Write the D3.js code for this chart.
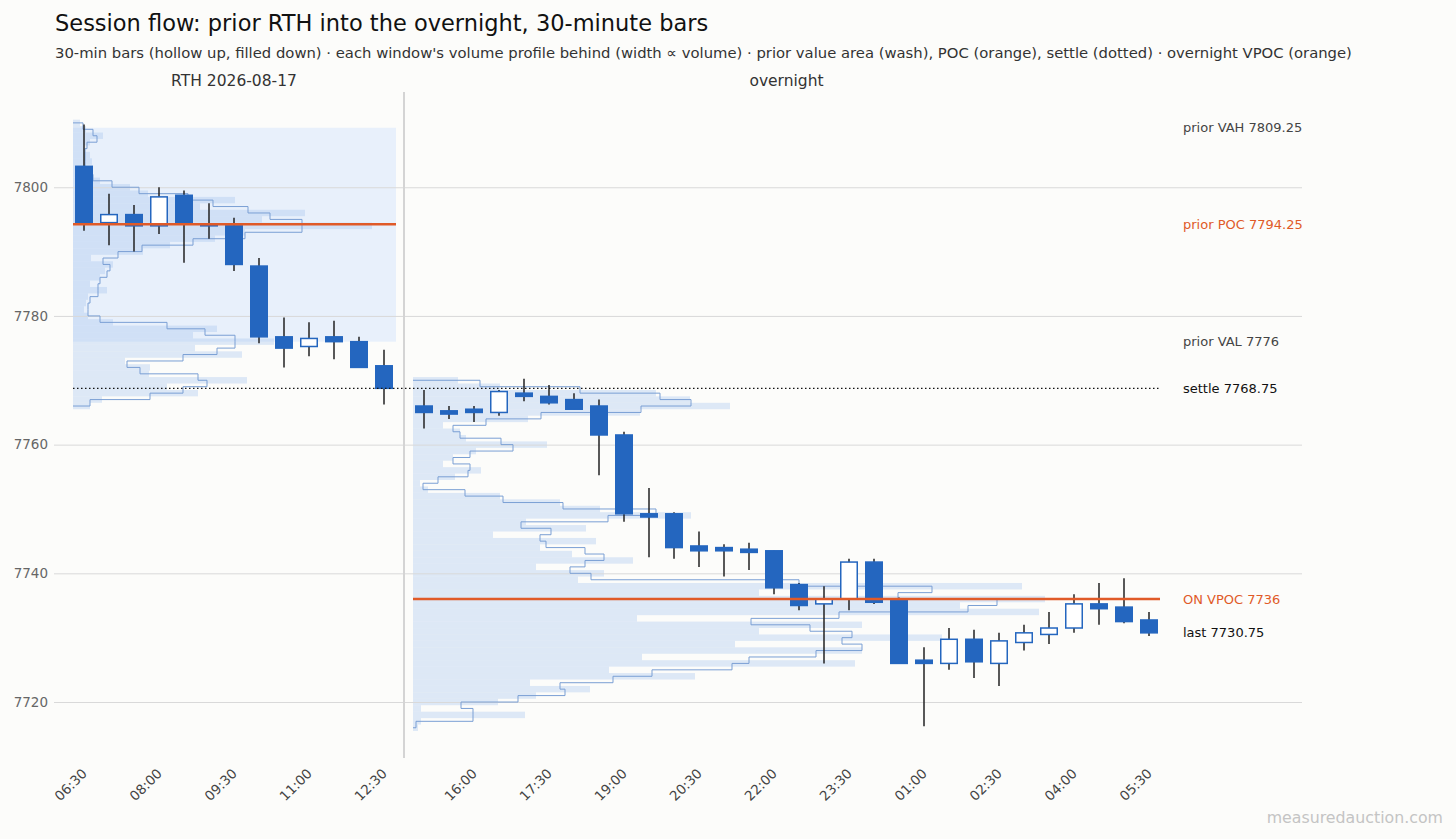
<!DOCTYPE html>
<html><head><meta charset="utf-8">
<script src="https://cdn.jsdelivr.net/npm/d3@7/dist/d3.min.js"></script>
<style>
html,body{margin:0;padding:0;background:#fcfcfa;}
svg{display:block;font-family:"DejaVu Sans",sans-serif;}
</style></head>
<body><svg id="c" width="1456" height="839"></svg>
<script>
// ---------------- data ----------------
const rthTimes = ["06:30","07:00","07:30","08:00","08:30","09:00","09:30","10:00","10:30","11:00","11:30","12:00","12:30"];
const rthOpen  = [7803.25,7794.5,7795.75,7794,7798.75,7794.25,7794,7787.75,7776.75,7775.25,7776.75,7776,7772.25];
const rthHigh  = [7809.75,7799,7797.25,7800,7799.5,7797.5,7795.25,7789,7779.75,7779,7779.25,7776.75,7774.75];
const rthLow   = [7793.25,7791,7790,7792.75,7788.25,7792,7787,7775.75,7772,7773.75,7773.25,7772,7766.25];
const rthClose = [7794.5,7795.75,7794,7798.5,7794.5,7794,7788,7776.75,7775,7776.5,7776,7772,7768.75];

const onTimes = ["15:00","15:30","16:00","16:30","17:00","17:30","18:00","18:30","19:00","19:30","20:00","20:30","21:00","21:30","22:00","22:30","23:00","23:30","00:00","00:30","01:00","01:30","02:00","02:30","03:00","03:30","04:00","04:30","05:00","05:30"];
const onOpen  = [7766,7765.25,7765.5,7765,7768,7767.5,7767,7766,7761.5,7749.25,7749.25,7744.25,7744,7743.75,7743.5,7738.25,7735.25,7736,7741.75,7735.75,7726.5,7726,7729.75,7726,7729.25,7730.5,7731.5,7735.25,7734.75,7732.75];
const onHigh  = [7768.5,7766,7766,7768.5,7770.25,7769.25,7768,7767,7762,7753.25,7749.5,7746.5,7744.5,7744.75,7743.5,7738.5,7738,7742.25,7742.25,7736.25,7728.5,7731.5,7731.25,7730.75,7732,7734,7736.75,7738.5,7739.25,7734];
const onLow   = [7762.5,7764,7763.5,7764.5,7766.75,7766.25,7765.5,7755.25,7748,7742.5,7742.25,7741,7739.5,7740.5,7736.75,7734.25,7726,7734.25,7735.25,7726,7716.25,7725,7723.75,7722.5,7728,7729,7730.75,7732,7732.25,7730.25];
const onClose = [7765,7764.75,7765,7768.25,7767.5,7766.5,7765.5,7761.5,7749.25,7748.75,7744,7743.5,7743.5,7743.25,7737.75,7735,7736,7741.75,7735.5,7726,7726,7729.75,7726.25,7729.5,7730.75,7731.5,7735.25,7734.5,7732.5,7730.75];

// volume profiles: one value per 1-point price level, listed from the top level down
const rthProfileTop = 7810;
const rthProfileVol = [140,260,600,340,220,340,380,260,220,540,1140,1500,3240,2540,4640,3780,5980,3440,2840,1940,1400,360,800,640,540,340,680,300,260,220,300,800,2880,2400,4020,2440,3380,1040,1540,1520,3480,1880,2500,580,340];
// outline (smoothed profile), one value per interval [p, p+1], from the top down
const rthOutlineTop = 7809;
const rthOutlineVol = [200,400,480,280,240,240,240,260,400,780,1320,2300,2800,3500,3940,4580,4580,3440,2400,1380,900,600,740,680,540,500,500,340,300,300,540,1880,2640,3240,3240,2880,2200,1080,1340,2500,2680,2200,1540,340];

const onProfileTop = 7770;
const onProfileVol = [900,1740,4860,5540,6340,4540,2300,600,940,1060,2680,1260,800,600,1360,840,140,300,1740,2940,3740,5560,2260,3460,1600,3660,2540,3180,4400,2460,3820,3300,12180,6920,12640,10940,12520,4480,8980,6920,10580,6440,8980,4580,8840,3920,5640,2340,3540,2460,1700,160,2240,160,100];
const onOutlineTop = 7769;
const onOutlineVol = [1340,3340,4940,5560,4560,2560,1460,800,940,1760,2000,1140,800,1140,1100,500,200,1040,1800,3000,4860,3900,2160,2760,2540,2660,3440,3820,3440,3140,3560,7720,10380,9700,11680,11100,8520,6760,7940,8780,8580,8980,8060,6720,6380,4780,4000,2940,3040,2100,960,1200,1200,60];

// reference levels
const priorVAH = 7809.25, priorPOC = 7794.25, priorVAL = 7776, settle = 7768.75, onVPOC = 7736, last = 7730.75;
const yTicks = [7720,7740,7760,7780,7800];
const rthTickIdx = [0,3,6,9,12];
const onTickIdx = [2,5,8,11,14,17,20,23,26,29];

// ---------------- layout ----------------
const W = 1456, H = 839;
const plotL = 54, plotR = 1302, plotT = 92, plotB = 758;
const onOffset = 13.6;              // slot of first overnight bar
const winPad = 0.44;                // profile window padding (slots)
const bodyW = 0.66;                 // candle body width (slots)
const maxProfileW = 632;
const blue = "#2466bf", orange = "#e05a28";

const svg = d3.select("#c");
svg.append("rect").attr("width",W).attr("height",H).attr("fill","#fcfcfa");

const x = d3.scaleLinear().domain([-1.2, 48.72]).range([plotL, plotR]);
const y = d3.scaleLinear().domain([7711.3, 7814.8]).range([plotB, plotT]);

const allVol = rthProfileVol.concat(onProfileVol);
const w = d3.scaleLinear().domain([0, d3.max(allVol)]).range([0, maxProfileW]);

const rthBars = rthTimes.map((t,i)=>({t, s:i, o:rthOpen[i], h:rthHigh[i], l:rthLow[i], c:rthClose[i]}));
const onBars  = onTimes.map((t,i)=>({t, s:onOffset+i, o:onOpen[i], h:onHigh[i], l:onLow[i], c:onClose[i]}));
const bars = rthBars.concat(onBars);

const rthL = x(rthBars[0].s - winPad), rthR = x(rthBars[rthBars.length-1].s + winPad + 0.04);
const onL = x(onBars[0].s - winPad), onR = x(onBars[onBars.length-1].s + winPad);

// ---------------- value area wash ----------------
svg.append("rect").attr("x",rthL).attr("y",y(priorVAH)).attr("width",rthR-rthL)
  .attr("height",y(priorVAL)-y(priorVAH)).attr("fill","#e8f0fb");

// ---------------- profile bars ----------------
function drawProfile(top, vols, left){
  const g = svg.append("g");
  g.selectAll("rect").data(vols).join("rect")
    .attr("x", left)
    .attr("y", (v,i)=>y(top - i + 0.5))
    .attr("height", (v,i)=>y(top - i - 0.5) - y(top - i + 0.5))
    .attr("width", v=>w(v))
    .attr("fill","rgb(165,198,238)").attr("fill-opacity",0.36);
}
drawProfile(rthProfileTop, rthProfileVol, rthL);
drawProfile(onProfileTop, onProfileVol, onL);

// ---------------- grid + y axis ----------------
const yAxis = d3.axisLeft(y).tickValues(yTicks).tickSize(-(plotR-plotL)).tickPadding(6).tickFormat(d3.format("d"));
const gy = svg.append("g").attr("transform",`translate(${plotL},0)`).call(yAxis);
gy.select(".domain").remove();
gy.selectAll(".tick line").attr("stroke","#d9d9d9").attr("stroke-width",1);
gy.selectAll(".tick text").attr("fill","#666").style("font-size","13.5px").style("font-family","DejaVu Sans");

// ---------------- profile outlines ----------------
function drawOutline(top, vols, left){
  const p = d3.path();
  p.moveTo(left, y(top+1));
  vols.forEach((v,i)=>{
    const xx = left + w(v);
    p.lineTo(xx, y(top - i + 1));
    p.lineTo(xx, y(top - i));
  });
  p.lineTo(left, y(top - vols.length + 1));
  svg.append("path").attr("d",p.toString()).attr("fill","none")
    .attr("stroke","#7a9fd4").attr("stroke-width",1);
}
drawOutline(rthOutlineTop, rthOutlineVol, rthL);
drawOutline(onOutlineTop, onOutlineVol, onL);

// ---------------- session separator ----------------
const sepX = x((rthBars[rthBars.length-1].s + onBars[0].s)/2);
svg.append("line").attr("x1",sepX).attr("x2",sepX).attr("y1",plotT).attr("y2",plotB)
  .attr("stroke","#d4d4d4").attr("stroke-width",2);

// ---------------- candles ----------------
const bw = x(bodyW) - x(0);
const cg = svg.append("g");
cg.selectAll("line.wick").data(bars).join("line").attr("class","wick")
  .attr("x1",d=>x(d.s)).attr("x2",d=>x(d.s)).attr("y1",d=>y(d.h)).attr("y2",d=>y(d.l))
  .attr("stroke","#222").attr("stroke-width",1.5);
cg.selectAll("rect.body").data(bars).join("rect").attr("class","body")
  .attr("x",d=>x(d.s)-bw/2).attr("width",bw)
  .attr("y",d=>y(Math.max(d.o,d.c)))
  .attr("height",d=>Math.max(1.2, Math.abs(y(d.o)-y(d.c))))
  .attr("fill",d=>d.c>=d.o ? "#ffffff" : blue)
  .attr("stroke",blue).attr("stroke-width",1.5);

// ---------------- reference lines ----------------
svg.append("line").attr("x1",rthL).attr("x2",rthR).attr("y1",y(priorPOC)).attr("y2",y(priorPOC))
  .attr("stroke",orange).attr("stroke-width",2.5);
svg.append("line").attr("x1",onL).attr("x2",onR).attr("y1",y(onVPOC)).attr("y2",y(onVPOC))
  .attr("stroke",orange).attr("stroke-width",2.5);
svg.append("line").attr("x1",rthL).attr("x2",onR).attr("y1",y(settle)).attr("y2",y(settle))
  .attr("stroke","#111").attr("stroke-width",1.3).attr("stroke-dasharray","1.5,2.5");

// ---------------- right labels ----------------
const refLabels = [
  {t:"prior VAH " + priorVAH, v:priorVAH, c:"#444"},
  {t:"prior POC " + priorPOC, v:priorPOC, c:orange},
  {t:"prior VAL " + priorVAL, v:priorVAL, c:"#444"},
  {t:"settle " + settle, v:settle, c:"#111"},
  {t:"ON VPOC " + onVPOC, v:onVPOC, c:orange},
  {t:"last " + last, v:last, c:"#111"}
];
svg.selectAll("text.ref").data(refLabels).join("text").attr("class","ref")
  .attr("x", onR + 23).attr("y", d=>y(d.v)).attr("dy","0.35em")
  .attr("fill", d=>d.c).style("font-size","13px").text(d=>d.t);

// ---------------- x axis ----------------
const tickBars = rthTickIdx.map(i=>rthBars[i]).concat(onTickIdx.map(i=>onBars[i]));
const xAxis = d3.axisBottom(x).tickValues(tickBars.map(d=>d.s))
  .tickFormat((s,i)=>tickBars[i].t).tickSize(0);
const gx = svg.append("g").attr("transform",`translate(0,${plotB})`).call(xAxis);
gx.select(".domain").remove();
gx.selectAll(".tick text").attr("x",0).attr("y",0).attr("dy","0.35em")
  .attr("transform","translate(0,13) rotate(-45)").style("text-anchor","end")
  .attr("fill","#444").style("font-size","13.5px").style("font-family","DejaVu Sans");

// ---------------- titles ----------------
svg.append("text").attr("x",55).attr("y",31).attr("fill","#111").style("font-size","22.5px")
  .text("Session flow: prior RTH into the overnight, 30-minute bars");
svg.append("text").attr("x",55).attr("y",58).attr("fill","#333").style("font-size","14.8px")
  .text("30-min bars (hollow up, filled down) · each window's volume profile behind (width ∝ volume) · prior value area (wash), POC (orange), settle (dotted) · overnight VPOC (orange)");
svg.append("text").attr("x",x(d3.mean(rthBars,d=>d.s))).attr("y",86).attr("text-anchor","middle")
  .attr("fill","#333").style("font-size","15.5px").text("RTH 2026-08-17");
svg.append("text").attr("x",x(d3.mean(onBars,d=>d.s))).attr("y",86).attr("text-anchor","middle")
  .attr("fill","#333").style("font-size","15.5px").text("overnight");
svg.append("text").attr("x",1443).attr("y",823).attr("text-anchor","end")
  .attr("fill","#c4c4c4").style("font-size","15.8px").text("measuredauction.com");
</script>
</body></html>
